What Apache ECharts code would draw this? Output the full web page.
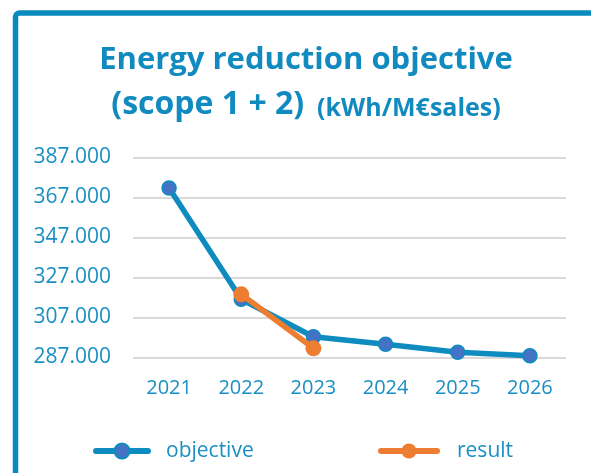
<!DOCTYPE html>
<html>
<head>
<meta charset="utf-8">
<script src="https://cdn.jsdelivr.net/npm/echarts@6/dist/echarts.min.js"></script>
<style>
html,body{margin:0;padding:0;background:#fff;}
#chart{width:591px;height:473px;}
</style>
</head>
<body>
<div id="chart"></div>
<script>
var categories = ['2021', '2022', '2023', '2024', '2025', '2026'];
var objective = [371600, 316000, 297300, 293500, 289500, 287800];
var result = [null, 318500, 291500, null, null, null];
var yTicks = [287000, 307000, 327000, 347000, 367000, 387000];

var BLUE = '#0E8CBF';
var TXT = '#1A8FC4';
var TITLE = '#118ABF';

function fmt(v) {
  var s = String(Math.round(v));
  return s.replace(/\B(?=(\d{3})+(?!\d))/g, '.');
}

var chart = echarts.init(document.getElementById('chart'), null, {renderer: 'canvas'});
chart.setOption({
  animation: false,
  backgroundColor: '#ffffff',
  graphic: [{
    type: 'rect',
    shape: {x: 15.5, y: 13, width: 700, height: 600, r: 4},
    style: {fill: 'none', stroke: '#0A8BBD', lineWidth: 5.5},
    silent: true
  }],
  title: [{
    text: 'Energy reduction objective',
    left: 301, top: 40, textAlign: 'center',
    textStyle: {fontFamily: 'Open Sans', fontWeight: 'bold', fontSize: 31, color: TITLE}
  }, {
    text: '{a|(scope 1 + 2)}{b|  (kWh/M€sales)}',
    left: 301, top: 78, textAlign: 'center',
    textStyle: {
      rich: {
        a: {fontFamily: 'Open Sans', fontWeight: 'bold', fontSize: 32, color: TITLE, verticalAlign: 'bottom', lineHeight: 38},
        b: {fontFamily: 'Open Sans', fontWeight: 'bold', fontSize: 25, color: TITLE, verticalAlign: 'bottom', lineHeight: 34}
      }
    }
  }],
  legend: [{
    data: ['objective'],
    left: 88, top: 435.5,
    itemWidth: 52, itemHeight: 19,
    lineStyle: {width: 6},
    textStyle: {fontFamily: 'Open Sans', fontSize: 21, color: TXT, padding: [0, 0, 0, 13]}
  }, {
    data: ['result'],
    left: 373, top: 435.5,
    itemWidth: 56, itemHeight: 19,
    lineStyle: {width: 6},
    textStyle: {fontFamily: 'Open Sans', fontSize: 21, color: TXT, padding: [0, 0, 0, 15]}
  }],
  grid: {left: 133, right: 25, top: 157.3, bottom: 115.7, containLabel: false},
  xAxis: {
    type: 'category',
    data: categories,
    boundaryGap: true,
    axisLine: {show: false},
    axisTick: {show: false},
    axisLabel: {fontFamily: 'Open Sans', fontSize: 20, color: TXT, margin: 21}
  },
  yAxis: {
    type: 'value',
    min: 287000, max: 387000,
    axisLine: {show: false},
    axisTick: {show: false, customValues: yTicks},
    splitLine: {show: true, lineStyle: {color: '#D9D9D9', width: 2}},
    axisLabel: {
      customValues: yTicks,
      fontFamily: 'Open Sans', fontSize: 21, color: TXT, margin: 22,
      formatter: function (v) { return fmt(v); }
    }
  },
  series: [{
    name: 'objective',
    type: 'line',
    data: objective,
    symbol: 'circle',
    symbolSize: 14,
    lineStyle: {color: BLUE, width: 5.5, cap: 'round', join: 'round'},
    itemStyle: {color: '#4472C4', borderColor: BLUE, borderWidth: 1.5},
    z: 2
  }, {
    name: 'result',
    type: 'line',
    data: result,
    symbol: 'circle',
    symbolSize: 16,
    lineStyle: {color: '#ED7D31', width: 5.5, cap: 'round', join: 'round'},
    itemStyle: {color: '#ED7D31', borderColor: '#ED7D31', borderWidth: 0},
    z: 3
  }]
});
</script>
</body>
</html>
